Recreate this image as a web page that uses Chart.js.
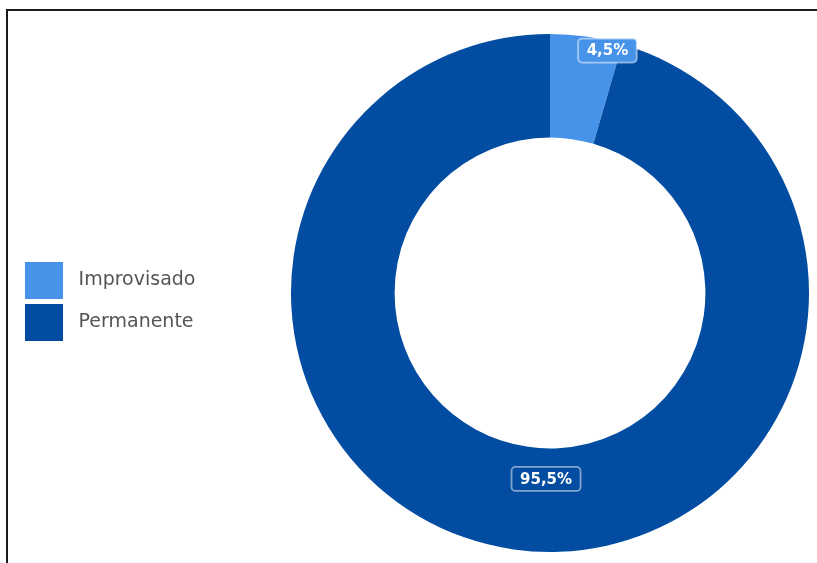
<!DOCTYPE html>
<html>
<head>
<meta charset="utf-8">
<script src="https://cdn.jsdelivr.net/npm/chart.js@4"></script>
<style>
  html, body { margin: 0; padding: 0; background: #ffffff; overflow: hidden; width: 817px; height: 563px; }
  #frame { position: absolute; left: 6px; top: 9px; width: 830px; height: 600px;
           border-top: 2px solid #1a1a1a; border-left: 2px solid #1a1a1a; box-sizing: border-box; }
  #wrap { position: absolute; left: 0; top: 0; width: 1000px; height: 563px; }
</style>
</head>
<body>
<div id="frame"></div>
<div id="wrap"><canvas id="c" width="1000" height="563"></canvas></div>
<script>
const categories = ['Improvisado', 'Permanente'];
const values = [4.5, 95.5];
const valueLabels = ['4,5%', '95,5%'];
const colors = ['#4893ea', '#024da1'];

// label placement inside each arc: [fraction along the arc, fraction across the ring]
const labelPlacement = [[0.823, 0.905], [0.48, 0.295]];

const boxLabels = {
  id: 'boxLabels',
  afterDatasetsDraw(chart) {
    const ctx = chart.ctx;
    const meta = chart.getDatasetMeta(0);
    ctx.save();
    ctx.font = 'bold 15px "DejaVu Sans"';
    ctx.textAlign = 'center';
    ctx.textBaseline = 'middle';
    meta.data.forEach((arc, i) => {
      const p = arc.getProps(['x', 'y', 'startAngle', 'endAngle', 'innerRadius', 'outerRadius'], true);
      const [fa, fr] = labelPlacement[i];
      const a = p.startAngle + fa * (p.endAngle - p.startAngle);
      const r = p.innerRadius + fr * (p.outerRadius - p.innerRadius);
      const cx = p.x + r * Math.cos(a);
      const cy = p.y + r * Math.sin(a);
      const text = valueLabels[i];
      const w = ctx.measureText(text).width + 17;
      const h = 24;
      ctx.beginPath();
      ctx.roundRect(cx - w / 2, cy - h / 2, w, h, 4);
      ctx.fillStyle = colors[i];
      ctx.fill();
      ctx.lineWidth = 1.8;
      ctx.strokeStyle = 'rgba(255,255,255,0.5)';
      ctx.stroke();
      ctx.fillStyle = '#ffffff';
      ctx.fillText(text, cx, cy + 1);
    });
    ctx.restore();
  }
};

const chart = new Chart(document.getElementById('c'), {
  type: 'doughnut',
  data: {
    labels: categories,
    datasets: [{
      data: values,
      backgroundColor: colors,
      borderWidth: 0,
      hoverOffset: 0
    }]
  },
  options: {
    responsive: false,
    devicePixelRatio: 1,
    animation: false,
    cutout: '60%',
    layout: { padding: { top: 34, bottom: 11, left: 20, right: 100 } },
    plugins: {
      tooltip: { enabled: false },
      legend: {
        position: 'left',
        align: 'center',
        title: { display: true, text: '', font: { size: 10, lineHeight: 1.2 }, padding: { top: 0, bottom: 5 } },
        labels: {
          boxWidth: 38,
          boxHeight: 37,
          padding: 5,
          color: '#555555',
          font: { family: '"DejaVu Sans"', size: 19 },
          generateLabels(chart) {
            return chart.data.labels.map((l, i) => ({
              text: ' ' + l,
              fillStyle: colors[i],
              strokeStyle: colors[i],
              lineWidth: 0,
              hidden: false,
              index: i,
              fontColor: '#555555'
            }));
          }
        }
      }
    }
  },
  plugins: [boxLabels]
});

// centre the doughnut horizontally at the reference's position
const left = chart.chartArea.left;
chart.options.layout.padding.right = 1000 - (1100 - left);
chart.update('none');
</script>
</body>
</html>
